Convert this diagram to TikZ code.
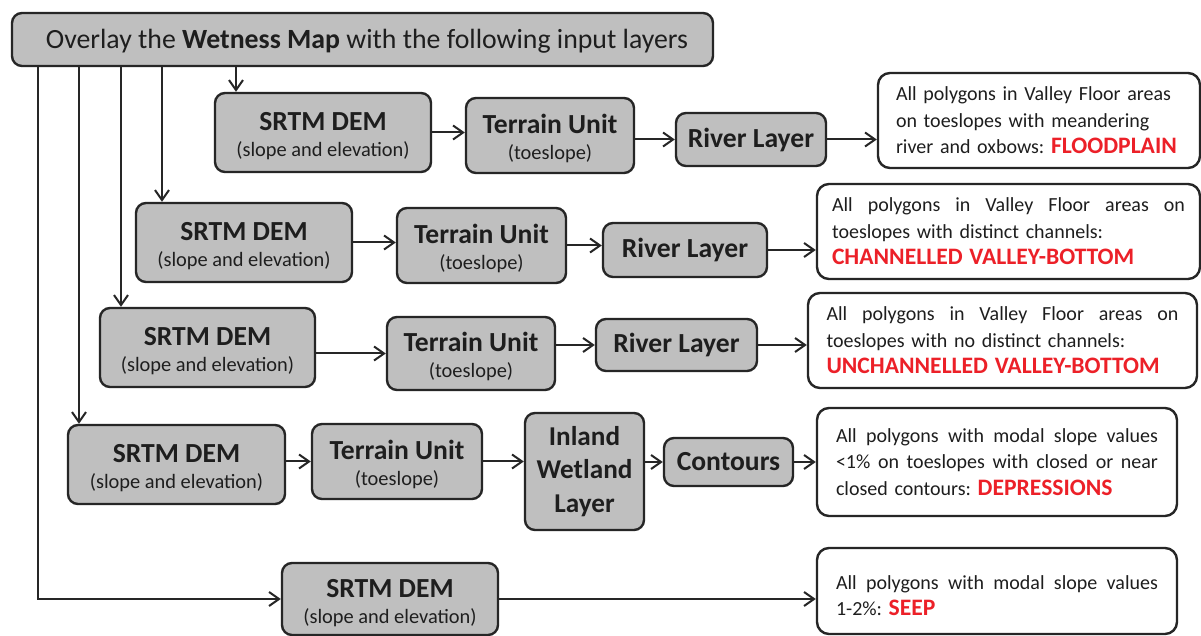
\documentclass[tikz,border=0pt]{standalone}
\usepackage{fontspec}
\setmainfont{Carlito}
\usetikzlibrary{arrows.meta}
\definecolor{boxgray}{RGB}{191,191,191}
\definecolor{linec}{RGB}{38,38,38}
\definecolor{txt}{RGB}{30,30,30}
\definecolor{resred}{RGB}{236,32,40}
\newcommand{\lbl}[1]{{\fontsize{13.8}{13}\selectfont\bfseries #1}}
\newcommand{\twol}[2]{\lbl{\rule{0pt}{13pt}#1}\\#2}
\newcommand{\cls}[1]{\mbox{\color{resred}\fontsize{11.8}{13.25}\selectfont\bfseries #1}}
\newcommand{\fline}[2]{\makebox[#1][s]{\spaceskip=0pt\xspaceskip=0pt #2}}
\tikzset{
  graybox/.style={draw=linec, fill=boxgray, line width=1.2pt, rounded corners=5pt,
    align=center, inner sep=0pt, text=txt, font=\fontsize{10.2}{13}\selectfont},
  resbox/.style={draw=linec, fill=white, line width=1.2pt, rounded corners=6pt,
    align=left, inner ysep=0pt, text=txt, font=\fontsize{10}{13.25}\selectfont\frenchspacing},
  arr/.style={draw=linec, line width=1pt, -{Straight Barb[length=5pt,width=7pt]}},
}
\begin{document}
\begin{tikzpicture}[x=0.5pt, y=-0.5pt]
  \fill[white] (0,0) rectangle (1201,636);
  \useasboundingbox (0,0) rectangle (1201,636);

  \node[graybox, minimum width=350.5pt, minimum height=26.5pt, font=\fontsize{13.9}{16}\selectfont]
    (title) at (362.5,39.5) {\hspace{4.5pt}\rule{0pt}{11pt}Overlay the \textbf{Wetness Map} with the following input layers};

  \node[graybox, minimum width=108pt, minimum height=39.5pt] (dem1) at (323,132.5) {\twol{SRTM DEM}{(slope and elevation)}};
  \node[graybox, minimum width=84pt, minimum height=37.5pt] (tu1) at (550,135.5) {\twol{Terrain Unit}{(toeslope)}};
  \node[graybox, minimum width=75pt, minimum height=26.5pt] (rl1) at (751,139.5) {\lbl{River Layer}};
  \node[resbox, text width=143pt, inner xsep=9pt, minimum height=47.5pt] (res1) at (1039,120.5)
    {All polygons in Valley Floor areas\\on toeslopes with meandering\\river and oxbows: \cls{FLOODPLAIN}};

  \node[graybox, minimum width=108pt, minimum height=39.5pt] (dem2) at (244,242.5) {\twol{SRTM DEM}{(slope and elevation)}};
  \node[graybox, minimum width=84.5pt, minimum height=37.5pt] (tu2) at (481.5,245.5) {\twol{Terrain Unit}{(toeslope)}};
  \node[graybox, minimum width=82pt, minimum height=27pt] (rl2) at (685,250) {\lbl{River Layer}};
  \node[resbox, text width=176.5pt, inner xsep=7.5pt, minimum height=47.5pt] (res2) at (1008.5,231.5)
    {\fline{176.5pt}{All polygons in Valley Floor areas on}\\toeslopes with distinct channels:\\\cls{CHANNELLED VALLEY-BOTTOM}};

  \node[graybox, minimum width=107.5pt, minimum height=39.5pt] (dem3) at (207.5,347.5) {\twol{SRTM DEM}{(slope and elevation)}};
  \node[graybox, minimum width=84pt, minimum height=36.5pt] (tu3) at (471,353.5) {\twol{Terrain Unit}{(toeslope)}};
  \node[graybox, minimum width=80.5pt, minimum height=26pt] (rl3) at (676.5,345) {\lbl{River Layer}};
  \node[resbox, text width=176pt, inner xsep=9.25pt, minimum height=47.5pt] (res3) at (1002.5,340.5)
    {\fline{176pt}{All polygons in Valley Floor areas on}\\toeslopes with no distinct channels:\\\cls{UNCHANNELLED VALLEY-BOTTOM}};

  \node[graybox, minimum width=108.5pt, minimum height=39.5pt] (dem4) at (176.5,464.5) {\twol{SRTM DEM}{(slope and elevation)}};
  \node[graybox, minimum width=85pt, minimum height=37.5pt] (tu4) at (397,461.5) {\twol{Terrain Unit}{(toeslope)}};
  \node[graybox, minimum width=59.5pt, minimum height=58.5pt, font=\fontsize{13.6}{16.75}\selectfont\bfseries]
    (iwl) at (584.5,471.5) {Inland\\Wetland\\Layer};
  \node[graybox, minimum width=64.5pt, minimum height=24pt] (con) at (728.5,462) {\lbl{Contours}};
  \node[resbox, text width=161pt, inner xsep=9.5pt, minimum height=54pt] (res4) at (997,462)
    {\fline{161pt}{All polygons with modal slope values}\\\fline{161pt}{<1\% on toeslopes with closed or near}\\closed contours: \cls{DEPRESSIONS}};

  \node[graybox, minimum width=108pt, minimum height=36pt] (dem5) at (390,599) {\twol{SRTM DEM}{(slope and elevation)}};
  \node[resbox, text width=161pt, inner xsep=9.5pt, minimum height=43pt] (res5) at (997,591)
    {\fline{161pt}{\rule{0pt}{11.5pt}All polygons with modal slope values}\\1-2\%: \cls{SEEP}};

  \coordinate (f1) at (236,0);
  \coordinate (f2) at (162,0);
  \coordinate (f3) at (121,0);
  \coordinate (f4) at (79,0);
  \coordinate (f5) at (38,0);
  \draw[arr] (f1 |- title.south) -- (f1 |- dem1.north);
  \draw[arr] (f2 |- title.south) -- (f2 |- dem2.north);
  \draw[arr] (f3 |- title.south) -- (f3 |- dem3.north);
  \draw[arr] (f4 |- title.south) -- (f4 |- dem4.north);
  \draw[arr] (f5 |- title.south) |- (dem5.west);

  \draw[arr] (dem1.east) -- (dem1.east -| tu1.west);
  \draw[arr] (tu1.east |- rl1.west) -- (rl1.west);
  \draw[arr] (rl1.east) -- (rl1.east -| res1.west);

  \draw[arr] (dem2.east) -- (dem2.east -| tu2.west);
  \draw[arr] (tu2.east) -- (tu2.east -| rl2.west);
  \draw[arr] (rl2.east) -- (rl2.east -| res2.west);

  \draw[arr] (dem3.east |- tu3.west) -- (tu3.west);
  \draw[arr] (tu3.east |- rl3.west) -- (rl3.west);
  \draw[arr] (rl3.east) -- (rl3.east -| res3.west);

  \draw[arr] (dem4.east |- tu4.west) -- (tu4.west);
  \draw[arr] (tu4.east) -- (tu4.east -| iwl.west);
  \draw[arr] (iwl.east |- con.west) -- (con.west);
  \draw[arr] (con.east) -- (con.east -| res4.west);

  \draw[arr] (dem5.east) -- (dem5.east -| res5.west);
\end{tikzpicture}
\end{document}
